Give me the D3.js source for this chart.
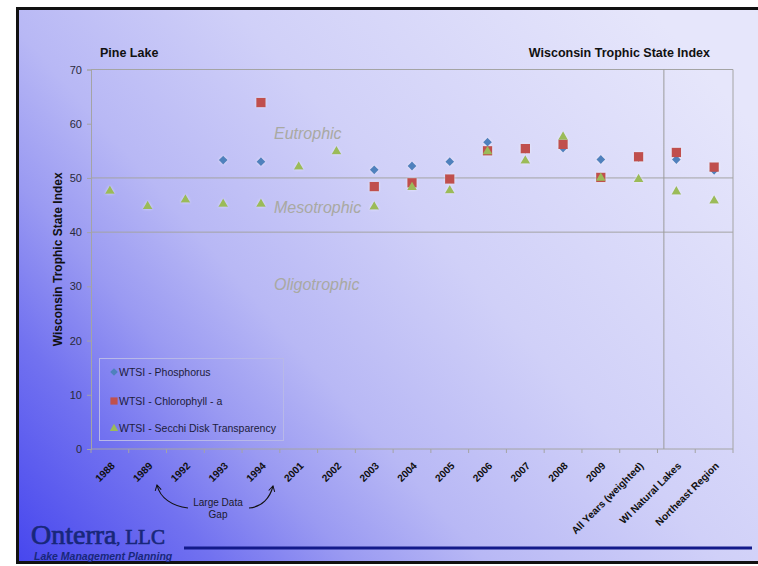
<!DOCTYPE html>
<html>
<head>
<meta charset="utf-8">
<script src="https://cdn.jsdelivr.net/npm/d3@7/dist/d3.min.js"></script>
<style>
  html, body { margin: 0; padding: 0; background: #fff; }
  svg { display: block; }
</style>
</head>
<body>
<script>
// Categories along the x axis
const categories = ["1988", "1989", "1992", "1993", "1994", "2001", "2002", "2003", "2004",
  "2005", "2006", "2007", "2008", "2009", "All Years (weighted)", "WI Natural Lakes", "Northeast Region"];

// WTSI values per category (null = not sampled)
const phosphorus  = [null, null, null, 53.3, 53.0, null, null, 51.5, 52.2, 53.0, 56.6, 55.3, 55.5, 53.4, 53.8, 53.4, 51.4];
const chlorophyll = [null, null, null, null, 63.9, null, null, 48.4, 49.1, 49.8, 55.0, 55.4, 56.2, 50.1, 53.9, 54.7, 52.0];
const secchi      = [47.7, 44.9, 46.1, 45.3, 45.3, 52.2, 55.0, 44.8, 48.4, 47.8, 55.0, 53.3, 57.7, 50.1, 49.9, 47.6, 45.9];

const yTicks = [0, 10, 20, 30, 40, 50, 60, 70];
const gridValues = [40, 50];
const zones = [
  { name: "Eutrophic", value: 57.1 },
  { name: "Mesotrophic", value: 43.6 },
  { name: "Oligotrophic", value: 29.4 }
];
const seriesNames = ["WTSI - Phosphorus", "WTSI - Chlorophyll - a", "WTSI - Secchi Disk Transparency"];

const W = 758, H = 566;
const svg = d3.select("body").append("svg").attr("width", W).attr("height", H)
  .style("font-family", "'Liberation Sans', Arial, sans-serif");

const defs = svg.append("defs");
// slide background: deep blue in the lower left fading to pale lavender in the upper right
const bg = defs.append("linearGradient").attr("id", "bg").attr("gradientUnits", "userSpaceOnUse")
  .attr("x1", 16).attr("y1", 564).attr("x2", 650).attr("y2", 7);
[[0, "#4646ee"], [0.18, "#7272f0"], [0.3, "#9a9af2"], [0.42, "#b8b8f5"], [0.63, "#d0d0f8"], [1, "#e6e6fb"]]
  .forEach(([o, c]) => bg.append("stop").attr("offset", o).attr("stop-color", c));

const glow = defs.append("filter").attr("id", "glow").attr("x", "-60%").attr("y", "-60%").attr("width", "220%").attr("height", "220%");
glow.append("feGaussianBlur").attr("in", "SourceAlpha").attr("stdDeviation", 1.6).attr("result", "b");
glow.append("feFlood").attr("flood-color", "#ffffff").attr("flood-opacity", 0.55);
glow.append("feComposite").attr("in2", "b").attr("operator", "in").attr("result", "g");
const fm = glow.append("feMerge");
fm.append("feMergeNode").attr("in", "g");
fm.append("feMergeNode").attr("in", "SourceGraphic");

const arrowHead = defs.append("marker").attr("id", "arr").attr("viewBox", "0 0 10 10")
  .attr("refX", 8).attr("refY", 5).attr("markerWidth", 7).attr("markerHeight", 7).attr("orient", "auto");
arrowHead.append("path").attr("d", "M1,1 L8,5 L1,9").attr("fill", "none").attr("stroke", "#111").attr("stroke-width", 1.3);

// Slide background with frame
svg.append("rect").attr("x", 16).attr("y", 7).attr("width", W - 16).attr("height", 557).attr("fill", "url(#bg)");
svg.append("path").attr("d", `M${W},8.5 H17.5 V562.5 H${W}`).attr("fill", "none").attr("stroke", "#111").attr("stroke-width", 3);

const plot = { left: 91, right: 733, top: 69.5, bottom: 449 };
const x = d3.scaleBand().domain(categories).range([plot.left, plot.right]);
const y = d3.scaleLinear().domain([0, 70]).range([plot.bottom, plot.top]);
const cx = c => x(c) + x.bandwidth() / 2;

const grid = "#a4a4a4";
// gridlines and plot frame
svg.append("g").selectAll("line").data(gridValues.concat([70])).join("line")
  .attr("x1", plot.left).attr("x2", plot.right).attr("y1", d => y(d)).attr("y2", d => y(d))
  .attr("stroke", grid).attr("stroke-width", 1);
svg.append("line").attr("x1", plot.right).attr("x2", plot.right).attr("y1", y(70)).attr("y2", y(0))
  .attr("stroke", grid);
// separator between lake results and reference values
const sepX = x("WI Natural Lakes") + x.bandwidth() * 0.17;
svg.append("line").attr("x1", sepX).attr("x2", sepX).attr("y1", y(70)).attr("y2", y(0))
  .attr("stroke", "#9a9a9a");

// y axis
const yAxis = d3.axisLeft(y).tickValues(yTicks).tickSize(4).tickPadding(5);
const gy = svg.append("g").attr("transform", `translate(${plot.left},0)`).call(yAxis);
gy.select(".domain").attr("stroke", grid);
gy.selectAll(".tick line").attr("stroke", grid);
gy.selectAll(".tick text").attr("fill", "#2a2a3a").style("font-size", "11px")
  .style("font-family", "'Liberation Sans', Arial, sans-serif");

// x axis with ticks on category boundaries
const gx = svg.append("g").attr("transform", `translate(0,${plot.bottom})`);
gx.append("line").attr("x1", plot.left).attr("x2", plot.right).attr("stroke", grid);
gx.selectAll("line.tk").data(categories.concat(["__end"])).join("line").attr("class", "tk")
  .attr("x1", d => d === "__end" ? plot.right : x(d)).attr("x2", d => d === "__end" ? plot.right : x(d))
  .attr("y1", 0).attr("y2", 4).attr("stroke", grid);
gx.selectAll("text").data(categories).join("text")
  .attr("transform", d => `translate(${cx(d) + 3},15) rotate(-45)`)
  .attr("text-anchor", "end").attr("dy", "0.35em")
  .style("font-size", "10.2px").style("font-weight", "bold").attr("fill", "#111")
  .text(d => d);

// titles
svg.append("text").attr("x", 100).attr("y", 57).text("Pine Lake")
  .style("font-size", "12.5px").style("font-weight", "bold").attr("fill", "#111");
svg.append("text").attr("x", 710).attr("y", 57).attr("text-anchor", "end").text("Wisconsin Trophic State Index")
  .style("font-size", "12.5px").style("font-weight", "bold").attr("fill", "#111");
svg.append("text").attr("transform", `translate(62,${(y(0) + y(70)) / 2}) rotate(-90)`)
  .attr("text-anchor", "middle").text("Wisconsin Trophic State Index")
  .style("font-size", "12px").style("font-weight", "bold").attr("fill", "#111");

// trophic zone labels
svg.append("g").selectAll("text").data(zones).join("text")
  .attr("x", 274).attr("y", d => y(d.value))
  .text(d => d.name).style("font-size", "16px").style("font-style", "italic").attr("fill", "#a9a9a2");

// marker shapes
const diamondPath = s => `M0,${-s}L${s},0L0,${s}L${-s},0Z`;
const squarePath = s => `M${-s},${-s}H${s}V${s}H${-s}Z`;
const trianglePath = s => `M0,${-s * 1.05}L${s * 1.05},${s * 0.75}L${-s * 1.05},${s * 0.75}Z`;
const seriesDefs = [
  { data: phosphorus, shape: diamondPath, r: 4.4, lr: 3.8, color: "#4f81bd" },
  { data: chlorophyll, shape: squarePath, r: 4.7, lr: 3.6, color: "#c0504d" },
  { data: secchi, shape: trianglePath, r: 4.6, lr: 4.0, color: "#9bbb59" }
];
const markers = svg.append("g").attr("filter", "url(#glow)");
seriesDefs.forEach(s => {
  markers.append("g").selectAll("path")
    .data(categories.map((c, i) => ({ c, v: s.data[i] })).filter(d => d.v != null))
    .join("path")
    .attr("transform", d => `translate(${cx(d.c)},${y(d.v)})`)
    .attr("d", s.shape(s.r)).attr("fill", s.color);
});

// legend
const lg = svg.append("g");
lg.append("rect").attr("x", 99.5).attr("y", 358.5).attr("width", 184).attr("height", 82)
  .attr("fill", "none").attr("stroke", "#b8b8e8").attr("stroke-width", 1);
const legendRows = [372, 401, 428];
seriesNames.forEach((n, i) => {
  const s = seriesDefs[i];
  lg.append("path").attr("transform", `translate(114,${legendRows[i]})`)
    .attr("d", s.shape(s.lr)).attr("fill", s.color);
  lg.append("text").attr("x", 119).attr("y", legendRows[i]).attr("dy", "0.35em")
    .text(n).style("font-size", "10.5px").attr("fill", "#1c1c3c");
});

// data gap annotation
const ann = svg.append("g");
ann.append("text").attr("x", 218).attr("y", 506).attr("text-anchor", "middle")
  .text("Large Data").style("font-size", "10px").attr("fill", "#1a1a2e");
ann.append("text").attr("x", 218).attr("y", 517.5).attr("text-anchor", "middle")
  .text("Gap").style("font-size", "10px").attr("fill", "#1a1a2e");
ann.append("path").attr("d", "M188,508 C172,506 160,498 157,485")
  .attr("fill", "none").attr("stroke", "#111").attr("stroke-width", 1.1).attr("marker-end", "url(#arr)");
ann.append("path").attr("d", "M249,508 C262,507 270,498 273,486")
  .attr("fill", "none").attr("stroke", "#111").attr("stroke-width", 1.1).attr("marker-end", "url(#arr)");

// company logo and rule
const logo = svg.append("g").attr("fill", "#18277a");
const t = logo.append("text").attr("x", 31).attr("y", 544)
  .attr("stroke", "#18277a").attr("stroke-width", 0.7)
  .style("font-family", "'Liberation Serif', 'Times New Roman', serif");
t.append("tspan").text("Onterra").style("font-size", "28px");
t.append("tspan").text(",").style("font-size", "14px");
t.append("tspan").text(" LLC").style("font-size", "21px");
logo.append("text").attr("x", 34).attr("y", 559.5).text("Lake Management Planning")
  .style("font-size", "10.5px").style("font-style", "italic").style("font-weight", "bold");
svg.append("line").attr("x1", 184).attr("x2", 752).attr("y1", 548).attr("y2", 548)
  .attr("stroke", "#131a8a").attr("stroke-width", 3);
</script>
</body>
</html>
